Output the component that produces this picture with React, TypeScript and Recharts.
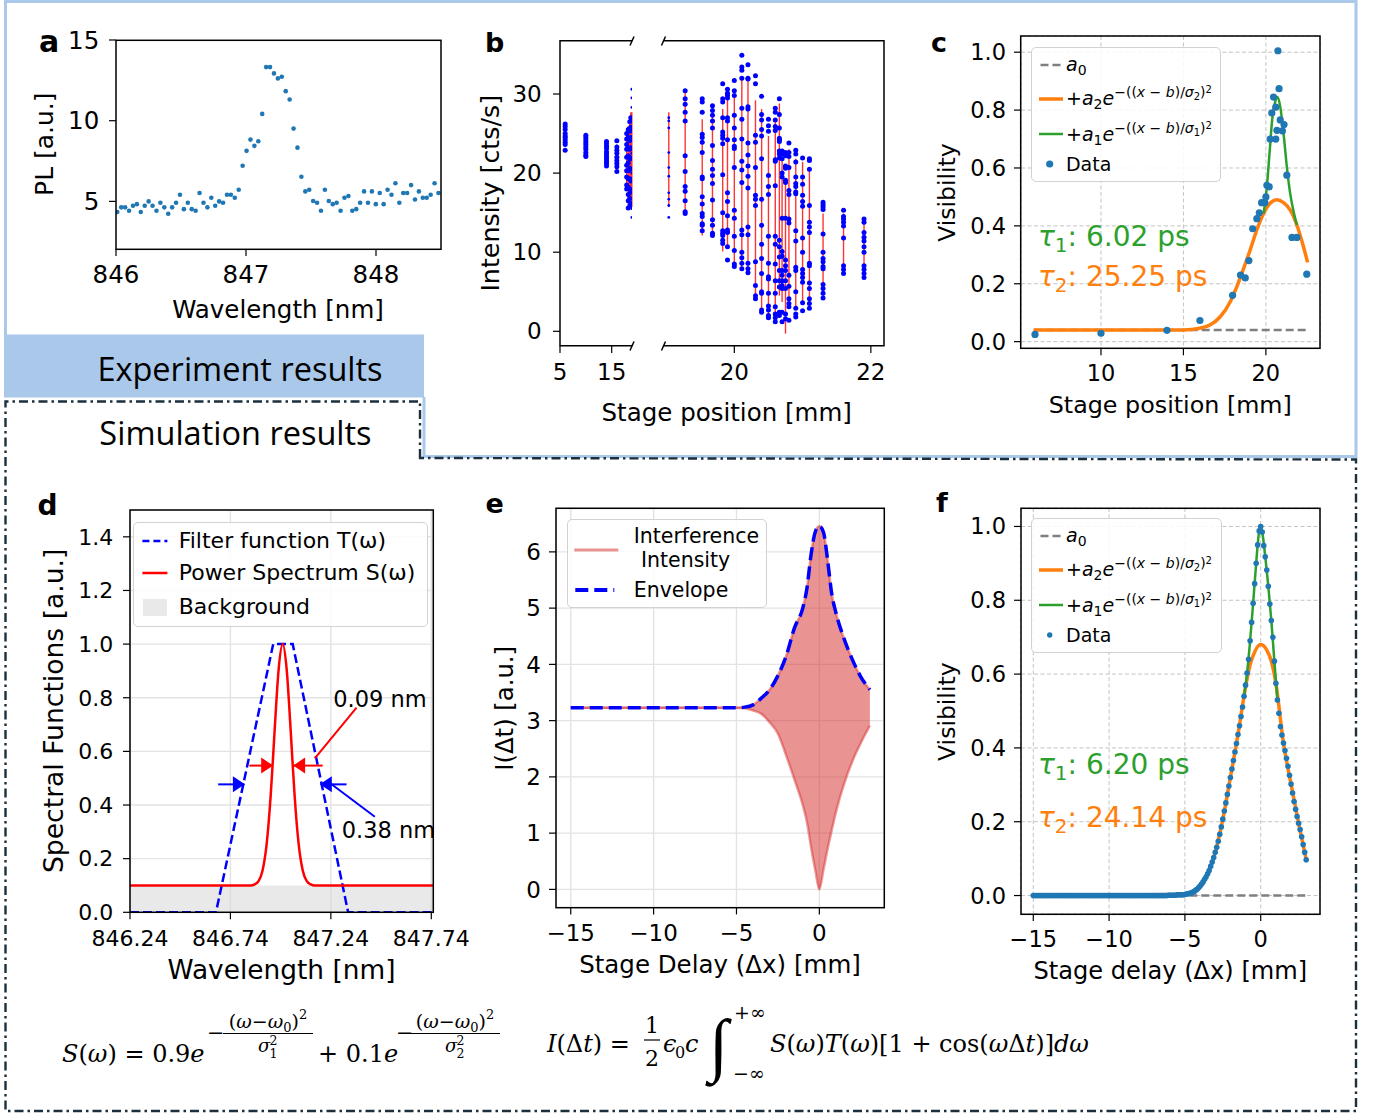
import React from 'react';
import {
  ComposedChart, Scatter, Line, Area, XAxis, YAxis, CartesianGrid, ErrorBar,
  ReferenceLine, ReferenceDot, ReferenceArea, Legend,
} from 'recharts';

const FONT = 'DejaVu Sans';
const SERIF = 'DejaVu Serif';
const TAB_BLUE = '#1f77b4';
const TAB_ORANGE = '#ff7f0e';
const TAB_GREEN = '#2ca02c';
const TAB_RED = '#d62728';
const EXP_BLUE = '#a9c8ea';
const SIM_DARK = '#1b2f3c';

// ---------------- panel a : PL spectrum ----------------
const aWavelengthStart = 846.01;
const aWavelengthStep = 0.03013;
const aPL = [
  4.34, 4.63, 4.63, 4.42, 4.73, 4.83, 4.34, 4.73, 5.0, 4.73,
  4.42, 4.92, 4.63, 4.23, 4.63, 4.92, 5.41, 4.52, 4.92, 4.52,
  4.42, 5.52, 4.92, 4.63, 5.23, 4.73, 5.0, 4.92, 5.41, 5.41,
  5.23, 5.72, 7.21, 8.13, 8.83, 8.44, 8.73, 10.42, 13.32, 13.32,
  12.93, 12.62, 12.72, 11.83, 11.31, 9.51, 8.33, 6.53, 5.62, 5.72,
  5.02, 4.92, 4.42, 5.72, 5.02, 4.83, 4.92, 4.42, 5.23, 5.33,
  4.42, 4.52, 4.92, 5.62, 4.92, 5.62, 4.83, 5.52, 4.83, 5.72,
  5.41, 6.12, 4.92, 5.52, 5.52, 6.01, 5.12, 5.62, 5.23, 5.23,
  5.41, 6.12, 5.52,
];
const aXTicks = [846, 847, 848];
const aYTicks = [5, 10, 15];

// ---------------- panel b : raw intensities ----------------
const bPositions = [6.0, 10.0, 14.0, 16.0, 17.9, 18.2, 18.5, 18.7, 18.9, 19.04, 19.28, 19.53, 19.68, 19.83, 19.9, 20.0,
  20.11, 20.2, 20.31, 20.4, 20.5, 20.6, 20.66, 20.7, 20.75, 20.8, 20.9, 21.0, 21.1, 21.3, 21.6, 21.9];
const bIntensities = [
  [26.2, 25.9, 25.5, 25.0, 24.7, 24.5, 24.2, 23.9, 23.6, 22.9],
  [24.8, 24.5, 24.2, 23.9, 23.6, 23.3, 23.0, 22.6, 22.3, 22.1],
  [24.0, 23.7, 23.4, 23.1, 22.7, 22.4, 22.1, 21.8, 21.5, 21.2, 20.9],
  [24.1, 23.3, 22.9, 22.5, 22.0, 21.6, 21.2, 20.8, 20.2],
  [25.0, 24.3, 23.6, 23.0, 22.0, 21.0, 20.3, 19.5, 18.5, 18.0],
  [25.5, 24.5, 23.2, 22.2, 21.3, 20.3, 19.3, 18.2, 17.3, 16.5, 15.6],
  [26.5, 25.3, 24.1, 23.0, 21.8, 20.6, 19.3, 18.0, 16.8, 15.8],
  [27.0, 25.8, 24.5, 23.2, 21.9, 20.5, 19.0, 17.6, 16.2],
  [30.6, 29.5, 28.3, 27.0, 25.6, 22.5, 20.0, 17.5, 15.5, 14.4],
  [27.0, 26.6, 25.7, 22.6, 20.7, 19.6, 17.5, 16.7, 15.9, 14.4],
  [30.4, 29.4, 28.7, 27.7, 26.6, 22.2, 20.2, 18.3, 17.7, 16.5, 15.1, 14.9],
  [29.4, 29.0, 27.7, 24.9, 24.5, 23.9, 22.6, 19.5, 19.3, 17.0, 16.1, 14.9, 14.5, 13.6, 13.4, 12.7],
  [28.5, 27.9, 27.3, 26.6, 25.7, 23.5, 21.6, 20.5, 19.7, 18.7, 16.6, 14.1, 13.4, 12.4, 12.1],
  [31.3, 29.4, 29.0, 27.0, 25.2, 24.8, 24.4, 23.7, 19.8, 15.0, 12.7, 12.4, 12.1, 11.5, 11.1],
  [30.6, 30.1, 29.8, 29.5, 27.0, 26.6, 24.2, 17.5, 16.4, 14.6, 12.8, 12.5, 10.7, 9.0],
  [31.7, 30.4, 29.8, 27.3, 25.7, 24.2, 23.4, 23.1, 20.7, 15.3, 14.3, 12.0, 10.2, 8.5, 8.2],
  [34.9, 33.4, 33.0, 32.0, 28.2, 26.8, 24.3, 21.5, 20.4, 18.8, 12.8, 12.2, 10.0, 9.3, 8.6, 7.9],
  [33.7, 32.0, 31.9, 28.4, 28.1, 23.8, 22.3, 20.9, 19.6, 18.1, 13.2, 12.2, 8.6, 7.9, 7.4],
  [32.3, 31.3, 24.8, 23.9, 20.7, 17.2, 16.7, 15.9, 8.8, 5.8, 4.5, 4.1],
  [29.7, 27.4, 26.7, 25.5, 24.7, 21.8, 16.7, 13.4, 11.0, 9.2, 7.3, 5.0, 4.8, 2.7, 2.4],
  [26.8, 26.0, 25.3, 19.7, 18.3, 17.3, 12.0, 8.6, 6.9, 6.6, 4.8, 3.2, 2.7, 2.0, 1.7],
  [28.2, 27.7, 26.7, 25.9, 25.4, 21.7, 21.5, 18.4, 12.0, 11.0, 8.5, 6.4, 4.8, 3.1, 2.2, 1.7, 1.2],
  [29.4, 27.4, 25.7, 24.4, 24.2, 24.0, 22.8, 22.4, 21.9, 11.5, 10.7, 9.4, 7.7, 6.4, 5.6, 2.4, 2.0],
  [22.8, 22.4, 21.8, 20.0, 19.5, 14.3, 10.1, 9.5, 7.7, 7.1, 6.4, 5.8, 5.4, 2.4, 1.2],
  [22.6, 22.2, 20.9, 20.8, 20.6, 19.1, 18.8, 14.3, 9.0, 8.3, 7.7, 6.4, 5.4, 2.2, 1.6],
  [23.8, 22.6, 22.1, 20.7, 17.8, 17.3, 14.2, 13.7, 7.1, 5.7, 4.1, 3.5, 3.1, 1.4],
  [22.9, 22.4, 21.4, 19.5, 18.7, 18.3, 17.6, 17.4, 12.7, 11.4, 8.1, 7.7, 5.0, 2.9, 2.2, 1.8],
  [21.9, 19.5, 18.6, 17.2, 16.4, 15.8, 11.8, 10.0, 7.8, 7.3, 6.8, 6.2, 3.6, 2.6],
  [21.8, 21.6, 20.5, 15.9, 13.8, 13.2, 12.5, 8.6, 8.3, 6.1, 5.4, 4.1, 3.5, 2.9],
  [16.3, 16.0, 15.7, 15.4, 12.3, 10.0, 9.2, 8.8, 8.2, 7.9, 5.9, 5.4, 4.8, 4.2],
  [15.3, 14.5, 14.2, 13.8, 13.3, 11.8, 8.3, 7.8, 7.3],
  [14.2, 13.8, 12.5, 11.9, 11.4, 10.7, 10.0, 8.3, 7.8, 7.3, 6.8],
];
const bRangeLow = [23.5, 22.6, 21.2, 20.5, 18.6, 16.0, 16.5, 15.8, 15.7, 15.7, 14.9, 12.1, 12.1, 10.1, 10.9, 8.5,
  7.8, 8.1, 4.3, 2.9, 2.2, 2.4, 4.5, 3.7, -0.3, 2.9, 3.1, 3.3, 3.3, 4.1, 7.3, 6.9];
const bRangeHigh = [25.7, 24.5, 23.7, 23.6, 24.3, 26.0, 27.0, 27.7, 27.7, 27.7, 30.4, 26.8, 27.3, 28.1, 30.0, 30.0,
  32.0, 32.0, 29.2, 28.1, 24.7, 26.6, 28.8, 22.8, 18.8, 23.0, 21.8, 21.4, 20.5, 14.9, 14.9, 14.0];
const bXTicksLeft = [5, 15];
const bXTicksRight = [20, 22];
const bYTicks = [0, 10, 20, 30];
const bBreak = 18.95;

// ---------------- panel c : measured visibility ----------------
const cPosition = [6.0, 10.0, 14.0, 16.0, 17.98, 18.46, 18.75, 18.97, 19.2, 19.45, 19.6, 19.74, 19.94, 20.0, 20.06,
  20.2, 20.26, 20.36, 20.46, 20.6, 20.6, 20.67, 20.73, 20.8, 20.87, 21.0, 21.1, 21.27, 21.58, 21.88, 22.48];
const cVisibility = [0.025, 0.029, 0.039, 0.073, 0.16, 0.23, 0.22, 0.28, 0.39, 0.425, 0.445, 0.48, 0.48, 0.50, 0.54,
  0.535, 0.70, 0.79, 0.845, 0.81, 0.70, 0.73, 1.005, 0.874, 0.766, 0.728, 0.75, 0.575, 0.36, 0.36, 0.233];
const cA0X = [5.92, 22.6];
const cA0Y = [0.04, 0.04];
const cOrangeX = [5.92, 15.0, 16.0, 16.63, 17.23, 17.84, 18.24, 18.65, 19.05, 19.45, 19.86, 20.26, 20.67, 21.07, 21.47, 21.88, 22.28, 22.53];
const cOrangeY = [0.04, 0.04, 0.046, 0.058, 0.086, 0.138, 0.19, 0.253, 0.317, 0.386, 0.443, 0.478, 0.49, 0.48, 0.455, 0.403, 0.328, 0.274];
const cGreenX = [19.86, 20.06, 20.22, 20.38, 20.57, 20.71, 20.87, 21.07, 21.27, 21.47, 21.68, 21.88];
const cGreenY = [0.443, 0.535, 0.65, 0.766, 0.83, 0.845, 0.812, 0.72, 0.605, 0.513, 0.45, 0.403];
const cXTicks = [10, 15, 20];
const visTicks = [0, 0.2, 0.4, 0.6, 0.8, 1.0];

// ---------------- panel d : spectral functions ----------------
const dFilterX = [846.24, 846.668, 846.953, 847.05, 847.326, 847.75];
const dFilterY = [0, 0, 1, 1, 0, 0];
const dSpectrumX = [846.24, 846.84, 846.86, 846.88, 846.90, 846.92, 846.94, 846.95, 846.96, 846.98, 847.0,
  847.02, 847.04, 847.05, 847.06, 847.08, 847.10, 847.12, 847.14, 847.16, 847.75];
const dSpectrumY = [0.1, 0.1, 0.104, 0.116, 0.156, 0.252, 0.431, 0.55, 0.677, 0.906, 1.0,
  0.906, 0.677, 0.55, 0.431, 0.252, 0.156, 0.116, 0.104, 0.1, 0.1];
const dBackground = 0.1;
const dXTicks = [846.24, 846.74, 847.24, 847.74];
const dYTicks = [0, 0.2, 0.4, 0.6, 0.8, 1.0, 1.2, 1.4];

// ---------------- panel e : simulated interference ----------------
const eDelay = [-15, -10, -5, -4.5, -4, -3.5, -3, -2.5, -2, -1.5, -1, -0.75, -0.5, -0.25, 0, 0.25, 0.5, 0.75, 1, 1.5, 2, 2.5, 3.05];
const eUpper = [3.23, 3.23, 3.23, 3.24, 3.28, 3.40, 3.55, 3.80, 4.15, 4.65, 5.0, 5.35, 5.95, 6.35, 6.46, 6.35, 5.85, 5.25, 4.92, 4.45, 4.08, 3.78, 3.55];
const eLower = [3.23, 3.23, 3.23, 3.22, 3.18, 3.12, 2.97, 2.77, 2.38, 1.95, 1.50, 1.20, 0.75, 0.35, 0.0, 0.35, 0.72, 1.05, 1.37, 1.88, 2.28, 2.60, 2.91];
const eXTicks = [-15, -10, -5, 0];
const eYTicks = [0, 1, 2, 3, 4, 5, 6];

// ---------------- panel f : simulated visibility ----------------
const fDelayStart = -15;
const fDelayStep = 0.1;
const fVisibility = [
  0, 0, 0, 0, 0, 0, 0, 0, 0, 0, 0, 0, 0, 0, 0, 0, 0, 0, 0, 0,
  0, 0, 0, 0, 0, 0, 0, 0, 0, 0, 0, 0, 0, 0, 0, 0, 0, 0, 0, 0,
  0, 0, 0, 0, 0, 0, 0, 0, 0, 0, 0, 0, 0, 0, 0, 0, 0, 0, 0, 0,
  0, 0, 0, 0, 0, 0, 0, 0, 0, 0, 0, 0, 0, 0, 0, 0, 0, 0, 0, 0,
  0, 0, 0, 0, 0, 0, 0, 0, 0, 0.001, 0.001, 0.001, 0.001, 0.001, 0.001, 0.002, 0.002, 0.002, 0.002, 0.002,
  0.003, 0.004, 0.005, 0.006, 0.007, 0.009, 0.011, 0.014, 0.017, 0.021,
  0.026, 0.031, 0.037, 0.044, 0.051, 0.059, 0.068, 0.079, 0.091, 0.103,
  0.117, 0.131, 0.147, 0.166, 0.186, 0.207, 0.229, 0.251, 0.274, 0.297,
  0.320, 0.343, 0.366, 0.389, 0.412, 0.436, 0.460, 0.485, 0.511, 0.540,
  0.570, 0.603, 0.640, 0.690, 0.740, 0.792, 0.845, 0.900, 0.950, 0.988,
  1.000, 0.985, 0.948, 0.918, 0.882, 0.838, 0.790, 0.745, 0.700, 0.635,
  0.575, 0.530, 0.494, 0.458, 0.435, 0.413, 0.393, 0.372, 0.350, 0.326,
  0.302, 0.278, 0.255, 0.234, 0.214, 0.196, 0.179, 0.159, 0.138, 0.117,
  0.097,
];
const fA0X = [-15, 3.0];
const fA0Y = [0, 0];
const fOrangeX = [-15, -5, -4.5, -4, -3.5, -3, -2.5, -2, -1.5, -1, -0.7, -0.4, 0, 0.4, 0.7, 1.0, 1.5, 2.0, 2.5, 3.0];
const fOrangeY = [0, 0.003, 0.009, 0.026, 0.059, 0.117, 0.207, 0.32, 0.436, 0.565, 0.625, 0.66, 0.68, 0.665, 0.635, 0.575, 0.413, 0.302, 0.196, 0.097];
const fGreenX = [-1.1, -0.9, -0.7, -0.5, -0.3, -0.1, 0, 0.1, 0.3, 0.5, 0.7, 0.9, 1.1];
const fGreenY = [0.54, 0.603, 0.69, 0.792, 0.9, 0.988, 1.0, 0.985, 0.918, 0.838, 0.745, 0.635, 0.53];
const fXTicks = [-15, -10, -5, 0];

// ---------------- derived series ----------------
const zip = (xs: number[], ys: number[]) => xs.map((x, i) => ({ x, y: ys[i] }));
const aData = aPL.map((y, i) => ({ x: aWavelengthStart + i * aWavelengthStep, y }));
const bDots = bPositions.flatMap((x, i) => bIntensities[i].map((y) => ({ x, y, small: x > 18.85 && x < 19.1 })));
const bBars = bPositions.map((x, i) => {
  const mid = (bRangeLow[i] + bRangeHigh[i]) / 2;
  const half = (bRangeHigh[i] - bRangeLow[i]) / 2;
  return { x, y: mid, err: [half, half] };
});
const cData = zip(cPosition, cVisibility);
const fData = fVisibility.map((y, i) => ({ x: +(fDelayStart + i * fDelayStep).toFixed(2), y }));
const eData = eDelay.map((x, i) => ({ x, y: eUpper[i], range: [eLower[i], eUpper[i]] }));

// ---------------- layout ----------------
const L = 100, R = 50, T = 20, B = 60;
const RA = { x: 116, y: 40.3, w: 325, h: 209 };
const RB1 = { x: 560, y: 40.7, w: 72, h: 305 };
const RB2 = { x: 663.5, y: 40.7, w: 220.5, h: 305 };
const RC = { x: 1020.7, y: 36, w: 299.3, h: 312.3 };
const RD = { x: 130, y: 510, w: 303.3, h: 402.3 };
const RE = { x: 556, y: 508.3, w: 328.3, h: 399.4 };
const RF = { x: 1021, y: 508.3, w: 299, h: 406 };

const minusFmt = (v: number) => String(v).replace('-', '\u2212');
const fix1 = (v: number) => v.toFixed(1);
const fix2 = (v: number) => v.toFixed(2);

const dotShape = (r: number, fill: string) => (p: any) => <circle cx={p.cx} cy={p.cy} r={r} fill={fill} />;
const bDotShape = (p: any) => <circle cx={p.cx} cy={p.cy} r={p.payload && p.payload.small ? 1.4 : 2.5} fill="#0000ff" />;
const emptyShape = () => <g />;
const arrowHead = (dir: number, color: string) => (p: any) => {
  const { cx, cy } = p;
  const len = 12, hw = 8;
  return <polygon points={`${cx},${cy} ${cx - dir * len},${cy - hw} ${cx - dir * len},${cy + hw}`} fill={color} />;
};

function Panel(props: any) {
  const { r, xDomain, yDomain, xTicks, yTicks, fs, xm, ym, xFmt, yFmt, grid, noY, data, legend, children } = props;
  const W = L + r.w + R, H = T + r.h + B;
  const left = r.x - L, top = r.y - T;
  const tickStyle = { fill: '#000', fontSize: fs, fontFamily: FONT };
  return (
    <div style={{ position: 'absolute', left, top, width: W, height: H }}>
      <ComposedChart width={W} height={H} data={data} margin={{ top: T, right: R, bottom: 0, left: 0 }} style={{ fontFamily: FONT }}>
        {grid === 'dashed' ? <CartesianGrid stroke="#c4c4c4" strokeDasharray="4 2.5" strokeWidth={1} /> : null}
        {grid === 'solid' ? <CartesianGrid stroke="#e3e3e3" strokeWidth={1.4} /> : null}
        <XAxis type="number" dataKey="x" domain={xDomain} allowDataOverflow ticks={xTicks} interval={0} height={B}
          axisLine={false} tickSize={7} tickMargin={xm} tickLine={{ stroke: '#000', strokeWidth: 1.2 }} tick={tickStyle} tickFormatter={xFmt} />
        <YAxis type="number" domain={yDomain} allowDataOverflow ticks={yTicks} interval={0} width={L}
          axisLine={false} tickSize={7} tickMargin={ym} tickLine={noY ? false : { stroke: '#000', strokeWidth: 1.2 }}
          tick={noY ? false : tickStyle} tickFormatter={yFmt} />
        {legend ? (
          <Legend layout="vertical" align="center" verticalAlign="middle"
            wrapperStyle={{ left: legend.x - left, top: legend.y - top, width: 'auto', height: 'auto', margin: 0, padding: 0 }}
            content={() => legend.node} />
        ) : null}
        {children}
      </ComposedChart>
    </div>
  );
}

// ---------------- legends ----------------
const legendBox = (w: number, h: number): React.CSSProperties => ({
  position: 'relative', width: w, height: h, boxSizing: 'border-box',
  border: '1.2px solid #d2d2d2', borderRadius: 5, background: 'rgba(255,255,255,0.85)',
  fontFamily: FONT, color: '#000',
});

function Sample({ y, x1, x2, color, width, dash, opacity }: any) {
  return (
    <svg style={{ position: 'absolute', left: 0, top: y - 8, overflow: 'visible' }} width={x2 + 4} height={16}>
      <line x1={x1} y1={8} x2={x2} y2={8} stroke={color} strokeWidth={width} strokeDasharray={dash} strokeOpacity={opacity} />
    </svg>
  );
}

function LText({ x, y, fs, children }: any) {
  return (
    <div style={{ position: 'absolute', left: x, top: y - fs * 0.6, fontSize: fs, lineHeight: `${fs * 1.2}px`, whiteSpace: 'nowrap' }}>
      {children}
    </div>
  );
}

function FitTerm({ k }: any) {
  return (
    <span>
      +<i>a</i><span style={{ fontSize: 14, position: 'relative', top: 4 }}>{k}</span><i>e</i>
      <span style={{ fontSize: 14, position: 'relative', top: -8 }}>
        −((<i>x</i> − <i>b</i>)/<i>σ</i><span style={{ fontSize: 10, position: 'relative', top: 3 }}>{k}</span>)
        <span style={{ fontSize: 10, position: 'relative', top: -4 }}>2</span>
      </span>
    </span>
  );
}

function FitLegend({ dotR }: any) {
  const ys = [16.3, 50.6, 85.8, 116];
  return (
    <div style={legendBox(190.5, 134.5)}>
      <Sample y={ys[0]} x1={8.5} x2={29} color="#7f7f7f" width={2.5} dash="8 4" />
      <LText x={34} y={ys[0]} fs={19}><i>a</i><span style={{ fontSize: 14, position: 'relative', top: 4 }}>0</span></LText>
      <Sample y={ys[1]} x1={7} x2={31} color={TAB_ORANGE} width={3.5} />
      <LText x={34} y={ys[1]} fs={19}><FitTerm k="2" /></LText>
      <Sample y={ys[2]} x1={7} x2={31} color={TAB_GREEN} width={2.5} />
      <LText x={34} y={ys[2]} fs={19}><FitTerm k="1" /></LText>
      <svg style={{ position: 'absolute', left: 0, top: ys[3] - 8 }} width={30} height={16}>
        <circle cx={17.7} cy={8} r={dotR} fill={TAB_BLUE} />
      </svg>
      <LText x={34} y={ys[3]} fs={19}>Data</LText>
    </div>
  );
}

function DLegend() {
  return (
    <div style={legendBox(295, 105)}>
      <Sample y={18.3} x1={8.4} x2={33.4} color="#0000ff" width={2.5} dash="7 4" />
      <LText x={44.4} y={18.3} fs={22}>Filter function T(ω)</LText>
      <Sample y={50.6} x1={8.4} x2={33.4} color="#ff0000" width={2.5} />
      <LText x={44.4} y={50.6} fs={22}>Power Spectrum S(ω)</LText>
      <div style={{ position: 'absolute', left: 8.4, top: 76.6, width: 24, height: 16.7, background: 'rgba(211,211,211,0.5)' }} />
      <LText x={44.4} y={85} fs={22}>Background</LText>
    </div>
  );
}

function ELegend() {
  return (
    <div style={legendBox(200, 89)}>
      <Sample y={29.7} x1={6.3} x2={50.3} color={TAB_RED} width={3} opacity={0.5} />
      <LText x={66} y={16.4} fs={20.5}>Interference</LText>
      <LText x={73.3} y={40} fs={20.5}>Intensity</LText>
      <Sample y={69.7} x1={7.3} x2={46.3} color="#0000ff" width={4} dash="13 6" />
      <LText x={66} y={70} fs={20.5}>Envelope</LText>
    </div>
  );
}

// ---------------- overlay: frames, titles, equations ----------------
function Frac({ cx, denSub }: any) {
  return (
    <g>
      <text x={cx} y={1028} textAnchor="middle" fontSize={19} fontFamily={SERIF}>
        (<tspan fontStyle="italic">ω</tspan>−<tspan fontStyle="italic">ω</tspan>
        <tspan fontSize={13} dy={4}>0</tspan><tspan dy={-4}>)</tspan><tspan fontSize={13} dy={-9}>2</tspan>
      </text>
      <line x1={cx - 45} x2={cx + 45} y1={1033.5} y2={1033.5} stroke="#000" strokeWidth={1.2} />
      <text x={cx - 10} y={1052} fontSize={18} fontStyle="italic" fontFamily={SERIF}>σ</text>
      <text x={cx + 1.5} y={1045} fontSize={12.5} fontFamily={SERIF}>2</text>
      <text x={cx + 1.5} y={1057.5} fontSize={12.5} fontFamily={SERIF}>{denSub}</text>
    </g>
  );
}

function Overlay() {
  const stroke = { fill: 'none', stroke: '#000', strokeWidth: 1.5 };
  const lab = { fontFamily: FONT, fill: '#000' };
  return (
    <svg width={1375} height={1114} style={{ position: 'absolute', left: 0, top: 0, pointerEvents: 'none' }}>
      {/* experiment region */}
      <rect x={4} y={334.5} width={420} height={63} fill={EXP_BLUE} />
      <polyline points="5.5,335 5.5,1.5 1356,1.5 1356,456.5 424,456.5 424,397" fill="none" stroke={EXP_BLUE} strokeWidth={3} />
      {/* simulation region */}
      <polygon points="420,458 420,401.5 5.5,401.5 5.5,1111 1356,1111 1356,459.5" fill="none" stroke={SIM_DARK}
        strokeWidth={2.4} strokeDasharray="9 4 2.5 4" />
      <text x={240} y={381} textAnchor="middle" fontFamily="Open Sans" fontSize={32.5} fill="#000">Experiment results</text>
      <text x={235.5} y={445} textAnchor="middle" fontFamily="Open Sans" fontSize={32.5} fill="#000">Simulation results</text>

      {/* axes frames */}
      <rect x={RA.x} y={RA.y} width={RA.w} height={RA.h} {...stroke} />
      <path d={`M ${RB1.x + RB1.w} ${RB1.y} H ${RB1.x} V ${RB1.y + RB1.h} H ${RB1.x + RB1.w}`} {...stroke} />
      <path d={`M ${RB2.x} ${RB2.y} H ${RB2.x + RB2.w} V ${RB2.y + RB2.h} H ${RB2.x}`} {...stroke} />
      <line x1={630} y1={45.5} x2={634} y2={36.5} stroke="#000" strokeWidth={1.5} />
      <line x1={661.5} y1={45.5} x2={665.5} y2={36.5} stroke="#000" strokeWidth={1.5} />
      <line x1={630} y1={350.5} x2={634} y2={341.5} stroke="#000" strokeWidth={1.5} />
      <line x1={661.5} y1={350.5} x2={665.5} y2={341.5} stroke="#000" strokeWidth={1.5} />
      <rect x={RC.x} y={RC.y} width={RC.w} height={RC.h} {...stroke} />
      <rect x={RD.x} y={RD.y} width={RD.w} height={RD.h} {...stroke} />
      <rect x={RE.x} y={RE.y} width={RE.w} height={RE.h} {...stroke} />
      <rect x={RF.x} y={RF.y} width={RF.w} height={RF.h} {...stroke} />

      {/* panel letters */}
      <g fontFamily={FONT} fontWeight="bold" fill="#000">
        <text x={39} y={52} fontSize={30}>a</text>
        <text x={485} y={52.3} fontSize={27}>b</text>
        <text x={931} y={51.7} fontSize={27}>c</text>
        <text x={37.5} y={515} fontSize={28}>d</text>
        <text x={485.5} y={513.3} fontSize={27}>e</text>
        <text x={936} y={512.3} fontSize={27}>f</text>
      </g>

      {/* axis titles */}
      <g {...lab}>
        <text x={278} y={318} textAnchor="middle" fontSize={24.5}>Wavelength [nm]</text>
        <text transform="translate(53.3,144.2) rotate(-90)" textAnchor="middle" fontSize={25}>PL [a.u.]</text>
        <text x={726.7} y={421} textAnchor="middle" fontSize={24.5}>Stage position [mm]</text>
        <text transform="translate(499.3,193.3) rotate(-90)" textAnchor="middle" fontSize={25.3}>Intensity [cts/s]</text>
        <text x={1170.3} y={413.3} textAnchor="middle" fontSize={23.8}>Stage position [mm]</text>
        <text transform="translate(955,192.5) rotate(-90)" textAnchor="middle" fontSize={23.5}>Visibility</text>
        <text x={281.5} y={979} textAnchor="middle" fontSize={26.4}>Wavelength [nm]</text>
        <text transform="translate(63.3,710.8) rotate(-90)" textAnchor="middle" fontSize={26.6}>Spectral Functions [a.u.]</text>
        <text x={720} y={973.3} textAnchor="middle" fontSize={24.5}>Stage Delay (Δx) [mm]</text>
        <text transform="translate(513.3,708.3) rotate(-90)" textAnchor="middle" fontSize={24.3}>I(Δt) [a.u.]</text>
        <text x={1170.3} y={979} textAnchor="middle" fontSize={24.1}>Stage delay (Δx) [mm]</text>
        <text transform="translate(955,711.7) rotate(-90)" textAnchor="middle" fontSize={23.5}>Visibility</text>
      </g>

      {/* fit results */}
      <g fontFamily={FONT} fontSize={28}>
        <text x={1038} y={246} fill={TAB_GREEN}><tspan fontStyle="italic">τ</tspan><tspan fontSize={20} dy={6}>1</tspan><tspan dy={-6}>: 6.02 ps</tspan></text>
        <text x={1038} y={286} fill={TAB_ORANGE}><tspan fontStyle="italic">τ</tspan><tspan fontSize={20} dy={6}>2</tspan><tspan dy={-6}>: 25.25 ps</tspan></text>
        <text x={1038} y={773.5} fill={TAB_GREEN}><tspan fontStyle="italic">τ</tspan><tspan fontSize={20} dy={6}>1</tspan><tspan dy={-6}>: 6.20 ps</tspan></text>
        <text x={1038} y={827} fill={TAB_ORANGE}><tspan fontStyle="italic">τ</tspan><tspan fontSize={20} dy={6}>2</tspan><tspan dy={-6}>: 24.14 ps</tspan></text>
      </g>

      {/* width annotations */}
      <g {...lab} fontSize={22.5}>
        <text x={333.3} y={706.5}>0.09 nm</text>
        <text x={341.7} y={838}>0.38 nm</text>
      </g>

      {/* equations */}
      <g fontFamily={SERIF} fill="#000">
        <text x={62} y={1062} fontSize={24}>
          <tspan fontStyle="italic">S</tspan>(<tspan fontStyle="italic">ω</tspan>) = 0.9<tspan fontStyle="italic">e</tspan>
        </text>
        <text x={207} y={1040} fontSize={21}>−</text>
        <Frac cx={268} denSub="1" />
        <text x={318} y={1062} fontSize={24}>+ 0.1<tspan fontStyle="italic">e</tspan></text>
        <text x={396} y={1040} fontSize={21}>−</text>
        <Frac cx={455} denSub="2" />

        <text x={547} y={1052} fontSize={24}>
          <tspan fontStyle="italic">I</tspan>(Δ<tspan fontStyle="italic">t</tspan>) =
        </text>
        <text x={652} y={1033} fontSize={22} textAnchor="middle">1</text>
        <line x1={644} x2={660} y1={1040} y2={1040} stroke="#000" strokeWidth={1.2} />
        <text x={652} y={1066} fontSize={22} textAnchor="middle">2</text>
        <text x={663} y={1052} fontSize={24} fontStyle="italic">ϵ</text>
        <text x={675} y={1058} fontSize={16}>0</text>
        <text x={685} y={1052} fontSize={24} fontStyle="italic">c</text>
        <text x={709} y={1068} fontSize={70} fontFamily="Liberation Serif">∫</text>
        <text x={734} y={1019} fontSize={19}>+∞</text>
        <text x={733} y={1080} fontSize={19}>−∞</text>
        <text x={770} y={1052} fontSize={24}>
          <tspan fontStyle="italic">S</tspan>(<tspan fontStyle="italic">ω</tspan>)<tspan fontStyle="italic">T</tspan>(<tspan fontStyle="italic">ω</tspan>)[1 + cos(<tspan fontStyle="italic">ω</tspan>Δ<tspan fontStyle="italic">t</tspan>)]<tspan fontStyle="italic">dω</tspan>
        </text>
      </g>
    </svg>
  );
}

export default function App() {
  return (
    <div style={{ position: 'absolute', left: 0, top: 0, width: 1375, height: 1114, background: '#fff', overflow: 'hidden', fontFamily: FONT }}>
      {/* a */}
      <Panel r={RA} xDomain={[846, 848.5]} yDomain={[2.05, 15]} xTicks={aXTicks} yTicks={aYTicks} fs={24.5} xm={9.7} ym={9.7}>
        <Scatter data={aData} dataKey="y" shape={dotShape(2.3, TAB_BLUE)} isAnimationActive={false} legendType="none" />
      </Panel>

      {/* b (broken axis) */}
      <Panel r={RB1} xDomain={[5, 18.93]} yDomain={[-1.86, 36.7]} xTicks={bXTicksLeft} yTicks={bYTicks} fs={23} xm={10.6} ym={11.3}>
        <Scatter data={bDots.filter((d) => d.x < bBreak)} dataKey="y" shape={bDotShape} isAnimationActive={false} legendType="none" />
        <Scatter data={bBars.filter((d) => d.x < bBreak)} dataKey="y" shape={emptyShape} isAnimationActive={false} legendType="none">
          <ErrorBar dataKey="err" direction="y" width={0} stroke="#ff0000" strokeWidth={1.4} strokeOpacity={0.8} isAnimationActive={false} />
        </Scatter>
      </Panel>
      <Panel r={RB2} xDomain={[18.97, 22.2]} yDomain={[-1.86, 36.7]} xTicks={bXTicksRight} yTicks={bYTicks} fs={23} xm={10.6} ym={11.3} noY>
        <Scatter data={bDots.filter((d) => d.x >= bBreak)} dataKey="y" shape={bDotShape} isAnimationActive={false} legendType="none" />
        <Scatter data={bBars.filter((d) => d.x >= bBreak)} dataKey="y" shape={emptyShape} isAnimationActive={false} legendType="none">
          <ErrorBar dataKey="err" direction="y" width={0} stroke="#ff0000" strokeWidth={1.4} strokeOpacity={0.8} isAnimationActive={false} />
        </Scatter>
      </Panel>

      {/* c */}
      <Panel r={RC} xDomain={[5.15, 23.3]} yDomain={[-0.023, 1.056]} xTicks={cXTicks} yTicks={visTicks} fs={22.5} xm={9.7} ym={8}
        yFmt={fix1} grid="dashed" legend={{ x: 1031, y: 47.3, node: <FitLegend dotR={3.6} /> }}>
        <Line data={zip(cA0X, cA0Y)} dataKey="y" stroke="#7f7f7f" strokeWidth={2.5} strokeDasharray="8 4" dot={false} activeDot={false} isAnimationActive={false} />
        <Line data={zip(cOrangeX, cOrangeY)} dataKey="y" type="monotone" stroke={TAB_ORANGE} strokeWidth={3.5} dot={false} activeDot={false} isAnimationActive={false} />
        <Line data={zip(cGreenX, cGreenY)} dataKey="y" type="monotone" stroke={TAB_GREEN} strokeWidth={2.5} dot={false} activeDot={false} isAnimationActive={false} />
        <Scatter data={cData} dataKey="y" shape={dotShape(3.6, TAB_BLUE)} isAnimationActive={false} legendType="none" />
      </Panel>

      {/* d */}
      <Panel r={RD} xDomain={[846.24, 847.75]} yDomain={[0, 1.5]} xTicks={dXTicks} yTicks={dYTicks} fs={22} xm={11} ym={9.7}
        xFmt={fix2} yFmt={fix1} grid="solid" legend={{ x: 133.3, y: 521.7, node: <DLegend /> }}>
        <ReferenceArea x1={846.24} x2={847.75} y1={0} y2={dBackground} fill="#d3d3d3" fillOpacity={0.5} stroke="none" ifOverflow="visible" />
        <Line data={zip(dFilterX, dFilterY)} dataKey="y" stroke="#0000ff" strokeWidth={2.5} strokeDasharray="9 4" dot={false} activeDot={false} isAnimationActive={false} />
        <Line data={zip(dSpectrumX, dSpectrumY)} dataKey="y" type="monotone" stroke="#ff0000" strokeWidth={2.5} dot={false} activeDot={false} isAnimationActive={false} />
        <ReferenceLine segment={[{ x: 847.368, y: 0.763 }, { x: 847.16, y: 0.574 }]} stroke="#ff0000" strokeWidth={2} ifOverflow="visible" />
        <ReferenceLine segment={[{ x: 846.834, y: 0.547 }, { x: 846.95, y: 0.547 }]} stroke="#ff0000" strokeWidth={2} ifOverflow="visible" />
        <ReferenceLine segment={[{ x: 847.199, y: 0.547 }, { x: 847.055, y: 0.547 }]} stroke="#ff0000" strokeWidth={2} ifOverflow="visible" />
        <ReferenceDot x={846.953} y={0.547} r={1} shape={arrowHead(1, '#ff0000')} ifOverflow="visible" />
        <ReferenceDot x={847.052} y={0.547} r={1} shape={arrowHead(-1, '#ff0000')} ifOverflow="visible" />
        <ReferenceLine segment={[{ x: 847.459, y: 0.356 }, { x: 847.227, y: 0.487 }]} stroke="#0000ff" strokeWidth={2} ifOverflow="visible" />
        <ReferenceLine segment={[{ x: 846.679, y: 0.477 }, { x: 846.81, y: 0.477 }]} stroke="#0000ff" strokeWidth={2} ifOverflow="visible" />
        <ReferenceLine segment={[{ x: 847.318, y: 0.477 }, { x: 847.19, y: 0.477 }]} stroke="#0000ff" strokeWidth={2} ifOverflow="visible" />
        <ReferenceDot x={846.812} y={0.477} r={1} shape={arrowHead(1, '#0000ff')} ifOverflow="visible" />
        <ReferenceDot x={847.185} y={0.477} r={1} shape={arrowHead(-1, '#0000ff')} ifOverflow="visible" />
      </Panel>

      {/* e */}
      <Panel r={RE} data={eData} xDomain={[-15.89, 3.92]} yDomain={[-0.32, 6.78]} xTicks={eXTicks} yTicks={eYTicks} fs={23} xm={10.3} ym={8}
        xFmt={minusFmt} grid="solid" legend={{ x: 566.7, y: 519.3, node: <ELegend /> }}>
        <Area dataKey="range" type="monotone" fill={TAB_RED} fillOpacity={0.5} stroke={TAB_RED} strokeOpacity={0.45} strokeWidth={2.5} dot={false} activeDot={false} isAnimationActive={false} />
        <Line dataKey="y" type="monotone" stroke="#0000ff" strokeWidth={3.5} strokeDasharray="13 6" dot={false} activeDot={false} isAnimationActive={false} />
      </Panel>

      {/* f */}
      <Panel r={RF} xDomain={[-15.81, 3.91]} yDomain={[-0.05, 1.05]} xTicks={fXTicks} yTicks={visTicks} fs={22.5} xm={10} ym={8}
        xFmt={minusFmt} yFmt={fix1} grid="dashed" legend={{ x: 1031, y: 518.3, node: <FitLegend dotR={2.7} /> }}>
        <Line data={zip(fA0X, fA0Y)} dataKey="y" stroke="#7f7f7f" strokeWidth={2.5} strokeDasharray="8 4" dot={false} activeDot={false} isAnimationActive={false} />
        <Line data={zip(fOrangeX, fOrangeY)} dataKey="y" type="monotone" stroke={TAB_ORANGE} strokeWidth={3.5} dot={false} activeDot={false} isAnimationActive={false} />
        <Line data={zip(fGreenX, fGreenY)} dataKey="y" type="monotone" stroke={TAB_GREEN} strokeWidth={2.5} dot={false} activeDot={false} isAnimationActive={false} />
        <Scatter data={fData} dataKey="y" shape={dotShape(2.8, TAB_BLUE)} isAnimationActive={false} legendType="none" />
      </Panel>

      <Overlay />
    </div>
  );
}
